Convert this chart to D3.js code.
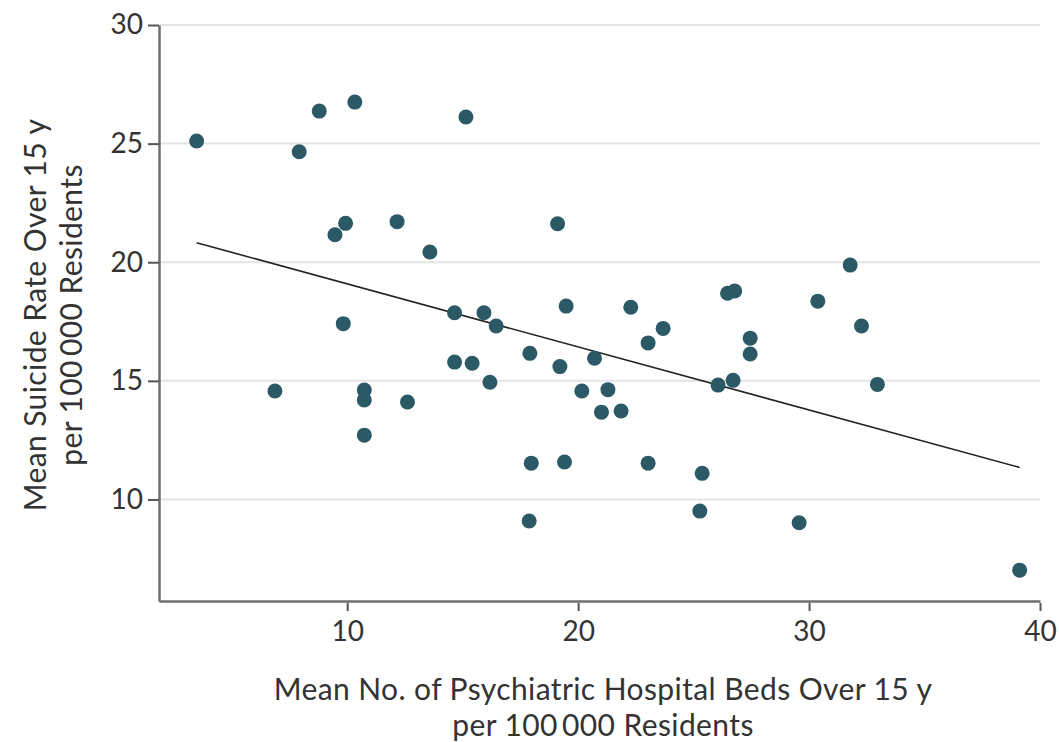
<!DOCTYPE html>
<html>
<head>
<meta charset="utf-8">
<script src="https://cdn.jsdelivr.net/npm/d3@7"></script>
<style>
  body { margin: 0; background: #fff; }
  svg text { font-family: Lato, "Open Sans", sans-serif; fill: #333; }
</style>
</head>
<body>
<svg id="chart" width="1059" height="742"></svg>
<script>
// Data
const bedsPer100k = [
  3.48, 7.92, 8.79, 10.33, 9.93, 9.47, 12.16, 13.58, 9.83, 14.65,
  6.87, 10.74, 10.74, 12.61, 10.74, 14.65, 15.14, 19.11, 15.92, 16.45,
  19.48, 22.28, 23.68, 23.03, 26.47, 26.78, 27.45, 27.45, 15.41, 16.18,
  17.91, 19.21, 20.71, 20.16, 21.29, 21.01, 21.86, 17.97, 19.41, 23.03,
  25.37, 25.27, 17.88, 26.06, 26.71, 31.78, 30.38, 32.27, 32.96, 29.57,
  39.12
];
const suicidePer100k = [
  25.11, 24.66, 26.37, 26.75, 21.64, 21.16, 21.71, 20.43, 17.41, 17.87,
  14.57, 14.61, 14.19, 14.11, 12.71, 15.79, 26.12, 21.62, 17.87, 17.31,
  18.15, 18.10, 17.21, 16.6, 18.69, 18.79, 16.8, 16.13, 15.74, 14.94,
  16.16, 15.6, 15.95, 14.57, 14.63, 13.68, 13.73, 11.53, 11.58, 11.53,
  11.1, 9.51, 9.09, 14.82, 15.02, 19.88, 18.36, 17.31, 14.85, 9.02,
  7.02
];
// fitted line endpoints (x, y)
const fitX = [3.48, 39.12];
const fitY = [20.82, 11.35];

const xTicks = [10, 20, 30, 40];
const yTicks = [10, 15, 20, 25, 30];
const xTitle = ['Mean No. of Psychiatric Hospital Beds Over 15 y', 'per 100\u2009000 Residents'];
const yTitle = ['Mean Suicide Rate Over 15 y', 'per 100\u2009000 Residents'];

const plot = { left: 159, right: 1040, top: 25, bottom: 601 };

const x = d3.scaleLinear().domain([1.85, 40]).range([plot.left, plot.right]);
const y = d3.scaleLinear().domain([5.72, 30]).range([plot.bottom, plot.top]);

const svg = d3.select('#chart');

// horizontal grid
svg.append('g')
  .selectAll('line')
  .data(yTicks)
  .enter()
  .append('line')
  .attr('x1', plot.left)
  .attr('x2', plot.right)
  .attr('y1', (d) => y(d))
  .attr('y2', (d) => y(d))
  .attr('stroke', '#e4e4e4')
  .attr('stroke-width', 2);

// axes
const xAxis = svg.append('g')
  .attr('transform', `translate(0,${plot.bottom})`)
  .call(d3.axisBottom(x).tickValues(xTicks).tickSize(10).tickPadding(10).tickSizeOuter(0));
const yAxis = svg.append('g')
  .attr('transform', `translate(${plot.left},0)`)
  .call(d3.axisLeft(y).tickValues(yTicks).tickSize(11).tickPadding(5).tickSizeOuter(0));

[xAxis, yAxis].forEach((ax) => {
  ax.select('.domain').attr('stroke', '#6e6e6e').attr('stroke-width', 2.5);
  ax.selectAll('.tick line').attr('stroke', '#555').attr('stroke-width', 2);
  ax.selectAll('.tick text')
    .attr('font-size', '28px')
    .attr('fill', '#333');
});
// x ticks start just below the axis line
xAxis.selectAll('.tick line').attr('y1', 2);

// fit line
svg.append('line')
  .attr('x1', x(fitX[0]))
  .attr('y1', y(fitY[0]))
  .attr('x2', x(fitX[1]))
  .attr('y2', y(fitY[1]))
  .attr('stroke', '#222')
  .attr('stroke-width', 1.6);

// points
svg.append('g')
  .selectAll('circle')
  .data(bedsPer100k)
  .enter()
  .append('circle')
  .attr('cx', (d) => x(d))
  .attr('cy', (d, i) => y(suicidePer100k[i]))
  .attr('r', 7.5)
  .attr('fill', '#2b5966');

// axis titles
svg.append('g')
  .selectAll('text')
  .data(xTitle)
  .enter()
  .append('text')
  .attr('x', 603)
  .attr('y', (d, i) => 700 + i * 36)
  .attr('text-anchor', 'middle')
  .attr('font-size', '30px')
  .attr('letter-spacing', '0.4px')
  .text((d) => d);

svg.append('g')
  .attr('transform', 'translate(0,315) rotate(-90)')
  .selectAll('text')
  .data(yTitle)
  .enter()
  .append('text')
  .attr('x', 0)
  .attr('y', (d, i) => 46 + i * 36)
  .attr('text-anchor', 'middle')
  .attr('font-size', '30px')
  .attr('letter-spacing', '0.4px')
  .text((d) => d);
</script>
</body>
</html>
